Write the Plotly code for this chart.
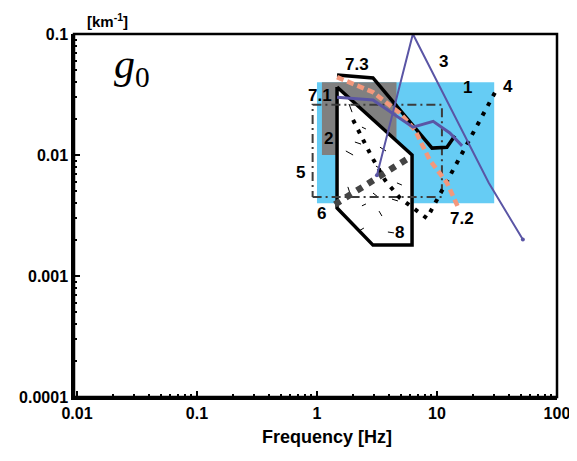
import numpy as np
import plotly.graph_objects as go

# ---------------- data (Frequency [Hz], g0 [km^-1]) ----------------
box1_x = [1.0, 30.0]
box1_y = [0.004, 0.04]
box2_x = [1.1, 4.6]
box2_y = [0.01, 0.04]
box5_x = [0.92, 11.0]
box5_y = [0.0045, 0.026]

poly8_x = [1.47, 1.47, 2.93, 6.2, 6.2, 1.47]
poly8_y = [0.0365, 0.00365, 0.0018, 0.0018, 0.01, 0.0365]

# short hatch dashes inside region 8 (pairs of points)
hatch8_x0 = [1.85, 2.51, 2.07, 1.74, 3.35, 3.10, 4.64, 1.81, 2.93, 2.37, 3.29, 4.22, 2.24, 3.90, 2.37]
hatch8_x1 = [1.96, 2.87, 2.33, 2.00, 3.76, 3.41, 5.10, 1.88, 3.22, 2.56, 3.48, 4.73, 2.46, 4.38, 2.56]
hatch8_y0 = [0.0264, 0.0222, 0.0128, 0.0108, 0.0116, 0.0081, 0.00588, 0.00545, 0.00485, 0.0038, 0.00344, 0.00432, 0.00236, 0.00231, 0.0170]
hatch8_y1 = [0.0226, 0.0206, 0.0123, 0.0100, 0.0108, 0.00766, 0.00565, 0.00485, 0.0045, 0.00394, 0.00313, 0.00417, 0.00249, 0.00227, 0.0164]

line3_x = [3.16, 6.3, 27.0, 52.0]
line3_y = [0.0068, 0.1, 0.0059, 0.002]

line4_x = [2.0, 2.87, 3.69, 4.9, 8.25, 32.0]
line4_y = [0.0195, 0.0096, 0.0062, 0.00442, 0.003, 0.036]

line6_x = [1.41, 5.96]
line6_y = [0.0039, 0.0096]

line71_x = [1.47, 2.93, 6.3, 9.3, 12.8, 16.2]
line71_y = [0.030, 0.0285, 0.017, 0.019, 0.0152, 0.0119]

line72_x = [1.47, 2.93, 4.9, 6.55, 8.7, 12.1, 15.0]
line72_y = [0.044, 0.033, 0.0222, 0.0161, 0.0091, 0.0059, 0.0037]

line73_x = [1.47, 2.93, 9.1, 12.1, 14.1]
line73_y = [0.0458, 0.0433, 0.0114, 0.0116, 0.0144]

label_text = ["1", "2", "3", "4", "5", "6", "7.1", "7.2", "7.3", "8"]
label_x = [18.1, 1.24, 11.4, 39.0, 0.735, 1.1, 1.06, 16.2, 2.15, 4.9]
label_y = [0.036, 0.0138, 0.0587, 0.037, 0.0072, 0.0033, 0.031, 0.003, 0.0565, 0.00227]

x_ticks = [0.01, 0.1, 1, 10, 100]
x_ticktext = ["0.01", "0.1", "1", "10", "100"]
y_ticks = [0.0001, 0.001, 0.01, 0.1]
y_ticktext = ["0.0001", "0.001", "0.01", "0.1"]

# ---------------- figure ----------------
BLUE = "#66CCF4"
GREY = "#808080"
PURPLE = "#5A55A5"
SALMON = "#F4987C"
DARK = "#3C3C3C"


def rect(xs, ys):
    return [xs[0], xs[1], xs[1], xs[0], xs[0]], [ys[0], ys[0], ys[1], ys[1], ys[0]]


fig = go.Figure()

bx, by = rect(box1_x, box1_y)
fig.add_trace(go.Scatter(x=bx, y=by, fill="toself", fillcolor=BLUE, mode="none"))
bx, by = rect(box2_x, box2_y)
fig.add_trace(go.Scatter(x=bx, y=by, fill="toself", fillcolor=GREY, mode="none"))

fig.add_trace(go.Scatter(x=poly8_x, y=poly8_y, fill="toself", fillcolor="white",
                         mode="lines", line=dict(color="black", width=3.5)))

hx, hy = [], []
for a, b, c, d in zip(hatch8_x0, hatch8_x1, hatch8_y0, hatch8_y1):
    hx += [a, b, None]
    hy += [c, d, None]
fig.add_trace(go.Scatter(x=hx, y=hy, mode="lines", line=dict(color="black", width=1)))

bx, by = rect(box5_x, box5_y)
fig.add_trace(go.Scatter(x=bx, y=by, mode="lines",
                         line=dict(color=DARK, width=2, dash="9px,4px,2px,4px")))

fig.add_trace(go.Scatter(x=line6_x, y=line6_y, mode="lines",
                         line=dict(color="#444444", width=6.5, dash="dot")))

fig.add_trace(go.Scatter(x=line4_x, y=line4_y, mode="lines",
                         line=dict(color="black", width=4, dash="4px,7px")))

fig.add_trace(go.Scatter(x=line73_x, y=line73_y, mode="lines",
                         line=dict(color="black", width=3.5)))

fig.add_trace(go.Scatter(x=line72_x, y=line72_y, mode="lines",
                         line=dict(color=SALMON, width=4.5, dash="7px,4px")))

fig.add_trace(go.Scatter(x=line71_x, y=line71_y, mode="lines",
                         line=dict(color=PURPLE, width=3)))

fig.add_trace(go.Scatter(x=line3_x, y=line3_y, mode="lines",
                         line=dict(color=PURPLE, width=2)))
fig.add_trace(go.Scatter(x=[line3_x[0], line3_x[-1]], y=[line3_y[0], line3_y[-1]],
                         mode="markers", marker=dict(color=PURPLE, size=4)))

annotations = []
for t, x, y in zip(label_text, label_x, label_y):
    annotations.append(dict(x=np.log10(x), y=np.log10(y), xref="x", yref="y",
                            xanchor="center", yanchor="middle",
                            text="<b>" + t + "</b>", showarrow=False,
                            font=dict(family="Liberation Sans", size=17, color="black")))

annotations.append(dict(x=0.524, y=-0.110, xref="paper", yref="paper",
                        xanchor="center", yanchor="middle",
                        text="<b>Frequency [Hz]</b>", showarrow=False,
                        font=dict(family="Liberation Sans", size=18, color="black")))
annotations.append(dict(x=0.070, y=1.036, xref="paper", yref="paper",
                        xanchor="center", yanchor="middle",
                        text="<b>[km<sup>-1</sup>]</b>", showarrow=False,
                        font=dict(family="Liberation Sans", size=15, color="black")))
annotations.append(dict(x=0.078, y=0.909, xref="paper", yref="paper",
                        xanchor="left", yanchor="middle",
                        text="<i>g</i><sub>0</sub>", showarrow=False,
                        font=dict(family="Liberation Serif", size=42, color="black")))

axis_common = dict(showline=True, linecolor="black", linewidth=2.5, mirror=False,
                   ticks="inside", ticklen=6, tickwidth=1.5, tickcolor="black",
                   showgrid=False, zeroline=False, automargin=False,
                   ticklabeloverflow="allow",
                   tickfont=dict(family="Liberation Sans", size=16, color="black"),
                   minor=dict(ticks="inside", ticklen=3, tickwidth=1.5,
                              tickcolor="black", dtick="D1", showgrid=False))

fig.update_xaxes(type="log", range=[-2.025, 2.0005], tickmode="array",
                 tickvals=x_ticks, ticktext=["<b>" + t + "</b>" for t in x_ticktext],
                 **axis_common)
fig.update_yaxes(type="log", range=[-4, -1], tickmode="array",
                 tickvals=y_ticks, ticktext=["<b>" + t + "</b>" for t in y_ticktext],
                 **axis_common)

# plot frame
fig.add_shape(type="rect", xref="paper", yref="paper", x0=0, y0=0, x1=1, y1=1,
              line=dict(color="black", width=2.5), layer="above")

# the page adds an 8px body margin on every side, so the figure is sized and
# offset to land the plot frame where the reference has it, without scrollbars
fig.update_layout(width=561, height=441, margin=dict(l=66, r=12, t=26, b=52),
                  plot_bgcolor="white", paper_bgcolor="white", showlegend=False,
                  annotations=annotations)

fig.write_html("out.html")
